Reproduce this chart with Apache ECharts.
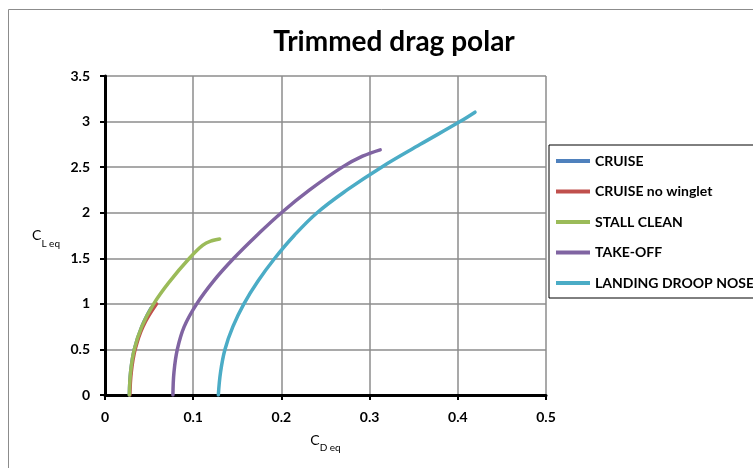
<!DOCTYPE html>
<html>
<head>
<meta charset="utf-8">
<script src="https://cdn.jsdelivr.net/npm/echarts@6/dist/echarts.min.js"></script>
<style>
html,body{margin:0;padding:0;background:#fff;}
#chart{width:753px;height:468px;}
</style>
</head>
<body>
<div id="chart"></div>
<script>
// ---- data ----
const seriesNames = ['CRUISE', 'CRUISE no winglet', 'STALL CLEAN', 'TAKE-OFF', 'LANDING DROOP NOSE'];
const xTicks = [0, 0.1, 0.2, 0.3, 0.4, 0.5];
const yTicks = [0, 0.5, 1, 1.5, 2, 2.5, 3, 3.5];

const cruiseCD = [0.0276, 0.029, 0.0332, 0.0417, 0.052];
const cruiseCL = [0, 0.25, 0.5, 0.75, 0.95];

const cruiseNoWingletCD = [0.0282, 0.0298, 0.0342, 0.043, 0.0585];
const cruiseNoWingletCL = [0, 0.25, 0.5, 0.75, 1.0];

const stallCleanCD = [0.0276, 0.029, 0.0332, 0.0417, 0.0552, 0.0737, 0.0957, 0.111, 0.122, 0.130];
const stallCleanCL = [0, 0.25, 0.5, 0.75, 1.0, 1.25, 1.5, 1.645, 1.695, 1.712];

const takeOffCD = [0.0770, 0.0782, 0.082, 0.0898, 0.104, 0.123, 0.146, 0.172, 0.200, 0.232, 0.269, 0.292, 0.312];
const takeOffCL = [0, 0.25, 0.5, 0.75, 1.0, 1.25, 1.5, 1.75, 2.0, 2.25, 2.5, 2.62, 2.69];

const landingCD = [0.1285, 0.131, 0.136, 0.145, 0.1575, 0.1735, 0.1925, 0.2145, 0.2405, 0.2745, 0.3135, 0.3575, 0.4025, 0.4195];
const landingCL = [0, 0.25, 0.5, 0.75, 1.0, 1.25, 1.5, 1.75, 2.0, 2.25, 2.5, 2.75, 3.0, 3.103];

const colors = ['#4F81BD', '#C0504D', '#9BBB59', '#8064A2', '#4BACC6'];

function pairs(xs, ys) { return xs.map((x, i) => [x, ys[i]]); }
const allData = [
  pairs(cruiseCD, cruiseCL),
  pairs(cruiseNoWingletCD, cruiseNoWingletCL),
  pairs(stallCleanCD, stallCleanCL),
  pairs(takeOffCD, takeOffCL),
  pairs(landingCD, landingCL)
];

const FONT = 'Lato';
const chart = echarts.init(document.getElementById('chart'), null, {renderer: 'canvas'});
chart.setOption({
  animation: false,
  backgroundColor: '#fff',
  graphic: [{
    type: 'rect',
    shape: {x: 8.5, y: 9.5, width: 800, height: 500},
    style: {fill: 'none', stroke: '#8c8c8c', lineWidth: 1},
    z: -10
  }],
  title: {
    text: 'Trimmed drag polar',
    left: 389, top: 23, textAlign: 'center',
    textStyle: {fontFamily: FONT, fontWeight: 'bold', fontSize: 28, color: '#000'}
  },
  legend: {
    orient: 'vertical',
    left: 549, top: 145,
    padding: [8, 10, 7, 7],
    itemGap: 14.5,
    itemWidth: 34, itemHeight: 4,
    icon: 'rect',
    borderColor: '#000', borderWidth: 1,
    textStyle: {fontFamily: FONT, fontWeight: 'bold', fontSize: 14, color: '#000', lineHeight: 16},
    data: seriesNames
  },
  grid: {left: 105, right: 207, top: 76, bottom: 73, containLabel: false},
  xAxis: {
    type: 'value', min: 0, max: 0.5, interval: 0.1,
    name: '{c|C}{s|D eq}', nameLocation: 'middle', nameGap: 38,
    nameTextStyle: {rich: {
      c: {fontFamily: FONT, fontSize: 14, color: '#000'},
      s: {fontFamily: FONT, fontSize: 10, color: '#000', verticalAlign: 'bottom', padding: [0,0,-6,0]}
    }},
    axisLine: {show: true, onZero: false, lineStyle: {color: '#000', width: 3}},
    axisTick: {show: true, inside: false, length: 5, lineStyle: {color: '#000', width: 2}},
    axisLabel: {margin: 15, fontFamily: FONT, fontWeight: 'bold', fontSize: 14, color: '#000',
      formatter: v => String(Math.round(v * 10) / 10)},
    splitLine: {show: true, lineStyle: {color: '#8c8c8c', width: 1.5}}
  },
  yAxis: {
    type: 'value', min: 0, max: 3.5, interval: 0.5,
    name: '{c|C}{s|L eq}', nameLocation: 'middle', nameRotate: 0, nameGap: 45,
    nameTextStyle: {rich: {
      c: {fontFamily: FONT, fontSize: 14, color: '#000'},
      s: {fontFamily: FONT, fontSize: 10, color: '#000', verticalAlign: 'bottom', padding: [0,0,-6,0]}
    }},
    axisLine: {show: true, onZero: false, lineStyle: {color: '#000', width: 3}},
    axisTick: {show: true, inside: false, length: 5, lineStyle: {color: '#000', width: 2}},
    axisLabel: {margin: 15, fontFamily: FONT, fontWeight: 'bold', fontSize: 14, color: '#000',
      formatter: v => String(Math.round(v * 10) / 10)},
    splitLine: {show: true, lineStyle: {color: '#8c8c8c', width: 1.5}}
  },
  series: seriesNames.map((n, i) => ({
    name: n,
    type: 'line',
    data: allData[i],
    smooth: 0.4,
    showSymbol: false,
    symbol: 'none',
    color: colors[i],
    lineStyle: {width: 3.5, color: colors[i], cap: 'round'},
    z: 2 + i
  }))
});
</script>
</body>
</html>
